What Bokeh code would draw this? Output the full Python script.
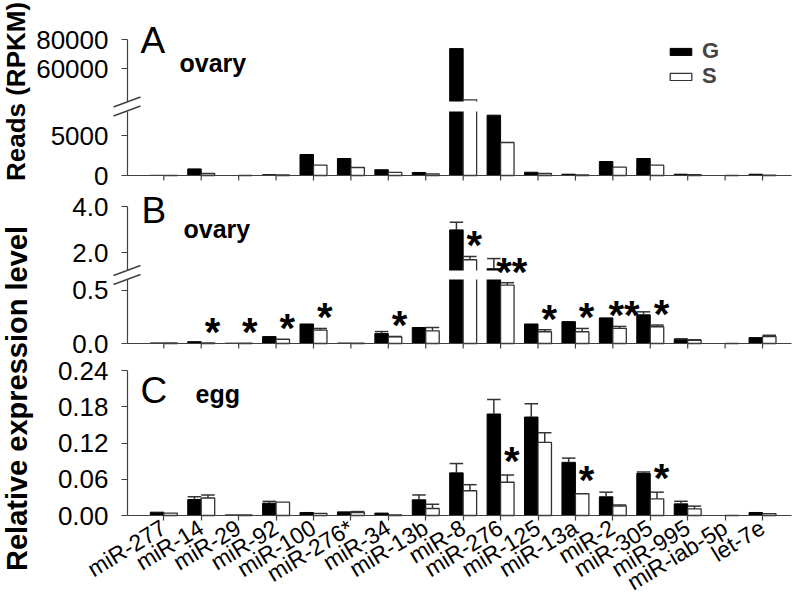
import numpy as np
from bokeh.plotting import figure
from bokeh.models import (ColumnDataSource, Range1d, FixedTicker, Label, LinearAxis,
                          Legend, LegendItem, CustomJSTickFormatter)
from bokeh.embed import file_html
from bokeh.resources import INLINE
from bokeh.core.properties import value

# ---------------- data ----------------
mirnas = ["miR-277", "miR-14", "miR-29", "miR-92", "miR-100", "miR-276*", "miR-34",
          "miR-13b", "miR-8", "miR-276", "miR-125", "miR-13a", "miR-2", "miR-305",
          "miR-995", "miR-iab-5p", "let-7e"]

# A: reads (RPKM), ovary
reads_G = [20, 825, 0, 100, 2625, 2125, 720, 380, 73800, 7540, 410, 160, 1750, 2125, 160, 0, 160]
reads_S = [10, 250, 0, 60, 1290, 1000, 385, 200, 38840, 4125, 250, 60, 1040, 1290, 120, 0, 50]
reads_ticks_low = [0, 5000]
reads_ticks_high = [60000, 80000]

# B: relative expression, ovary
ovary_G = [0.005, 0.017, 0.003, 0.065, 0.183, 0.004, 0.093, 0.150, 2.99, 1.31, 0.183, 0.205,
           0.240, 0.269, 0.040, 0.0, 0.055]
ovary_G_err = [0, 0, 0, 0, 0, 0, 0.019, 0, 0.33, 0.44, 0, 0, 0, 0.028, 0.004, 0, 0]
ovary_S = [0.005, 0.006, 0.003, 0.040, 0.126, 0.004, 0.062, 0.119, 1.70, 0.548, 0.110, 0.110,
           0.141, 0.157, 0.030, 0.0, 0.065]
ovary_S_err = [0, 0, 0, 0, 0.015, 0, 0.004, 0.031, 0.14, 0.022, 0.019, 0.031, 0.019, 0.016,
               0.005, 0, 0.012]
ovary_sig = ["", "*", "*", "*", "*", "", "*", "", "*", "**", "*", "*", "**", "*", "", "", ""]
ovary_ticks_low = [0.0, 0.5]
ovary_ticks_high = [2.0, 4.0]

# C: relative expression, egg
egg_G = [0.0055, 0.0265, 0.001, 0.0204, 0.005, 0.006, 0.004, 0.026, 0.0706, 0.168, 0.163,
         0.088, 0.031, 0.0695, 0.0193, 0.0, 0.005]
egg_G_err = [0, 0.0045, 0, 0.003, 0, 0, 0, 0.008, 0.0154, 0.024, 0.022, 0.007, 0.0076,
             0.0025, 0.0042, 0, 0]
egg_S = [0.004, 0.029, 0.001, 0.022, 0.0035, 0.005, 0.001, 0.0116, 0.041, 0.055, 0.121,
         0.036, 0.0154, 0.0276, 0.011, 0.0, 0.003]
egg_S_err = [0, 0.005, 0, 0, 0, 0.0015, 0, 0.007, 0.010, 0.012, 0.016, 0, 0.002, 0.011,
             0.0045, 0, 0]
egg_sig = ["", "", "", "", "", "", "", "", "", "*", "", "*", "", "*", "", "", ""]
egg_ticks = [0.00, 0.06, 0.12, 0.18, 0.24]

# ---------------- geometry (pixels) ----------------
FONT = "Liberation Sans"
AX = "#404040"
EDGE = "#333333"
W, H = 792, 604
X0, STEP = 163.3, 37.42          # pixel x of first category, category spacing


def px2x(px):
    return (px - X0) / STEP


def Y(py):                        # pixel row (from top) -> data y
    return H - py


AXIS_X = px2x(127)
X_END = px2x(791)
idx = np.arange(len(mirnas), dtype=float)
n = len(idx)
BW = 0.36
OFF = 0.18


def broken(lo_top, lo_px, gap_px, hi_bot, hi_top, hi_px):
    """piecewise-linear broken-axis scale: value -> pixels above the baseline"""
    def f(v):
        v = np.asarray(v, dtype=float)
        lo = v / lo_top * lo_px
        hi = lo_px + gap_px + (v - hi_bot) / (hi_top - hi_bot) * hi_px
        mid = lo_px + (v - lo_top) / (hi_bot - lo_top) * gap_px
        return np.where(v <= lo_top, lo, np.where(v >= hi_bot, hi, mid))
    return f


def linear(px_per_unit):
    def f(v):
        return np.asarray(v, dtype=float) * px_per_unit
    return f


p = figure(width=W, height=H, x_range=Range1d(px2x(0), px2x(W)), y_range=Range1d(0, H),
           x_axis_type=None, y_axis_type=None, output_backend="svg", toolbar_location=None,
           title=None, min_border=0)
p.outline_line_color = None
p.background_fill_color = "white"


def add_y_axis(base, f, ticks, fmt, lo_px, hi_px):
    b = Y(base)
    ax = LinearAxis(fixed_location=AXIS_X,
                    ticker=FixedTicker(ticks=[round(float(b + v), 3) for v in f(ticks)]),
                    bounds=(b + lo_px, b + hi_px),
                    formatter=CustomJSTickFormatter(args=dict(labels=[fmt % t for t in ticks]),
                                                    code="return labels[index];"))
    ax.axis_line_color = AX
    ax.axis_line_width = 1.2
    ax.major_tick_line_color = AX
    ax.major_tick_line_width = 1.2
    ax.minor_tick_line_color = None
    ax.major_tick_in = 0
    ax.major_tick_out = 6
    ax.major_label_standoff = 13
    ax.major_label_text_font = FONT
    ax.major_label_text_font_size = "26px"
    ax.major_label_text_color = "#000000"
    p.add_layout(ax, "left")


def baseline(base):
    b = Y(base)
    p.segment(x0=[AXIS_X], y0=[b], x1=[X_END], y1=[b], line_color=AX, line_width=1.2)
    p.segment(x0=idx, y0=np.full(n, b), x1=idx, y1=np.full(n, b - 5.0),
              line_color=AX, line_width=1.2)


def draw_bars(base, G, S, f):
    b = Y(base)
    src = ColumnDataSource(dict(xg=idx - OFF, xs=idx + OFF, g=b + f(G), s=b + f(S),
                                b=np.full(n, b)))
    rg = p.vbar(x="xg", top="g", bottom="b", width=BW, fill_color="black", line_color="black",
                line_width=1, source=src)
    rs = p.vbar(x="xs", top="s", bottom="b", width=BW, fill_color="white", line_color=EDGE,
                line_width=1.3, source=src)
    return rg, rs


def draw_err(base, xpos, val, err, f):
    b = Y(base)
    val = np.asarray(val, float)
    err = np.asarray(err, float)
    m = err > 0
    x = xpos[m]
    lo = b + f(val[m])
    hi = b + f(val[m] + err[m])
    p.segment(x0=x, y0=lo, x1=x, y1=hi, line_color=EDGE, line_width=1.5)
    p.segment(x0=x - OFF, y0=hi, x1=x + OFF, y1=hi, line_color=EDGE, line_width=1.5)


def draw_break(base, lo_px, gap_px):
    b = Y(base)
    p.quad(left=[px2x(128.5)], right=[X_END], bottom=[b + lo_px], top=[b + lo_px + gap_px],
           fill_color="white", line_color=None)
    mid = b + lo_px + gap_px / 2.0
    for d in (-4.5, 4.5):
        p.segment(x0=[px2x(113)], y0=[mid + d - 5], x1=[px2x(140)], y1=[mid + d + 5],
                  line_color=AX, line_width=1.4)


def draw_stars(base, S, Serr, sig, f, lift):
    b = Y(base)
    S = np.asarray(S, float)
    Serr = np.asarray(Serr, float)
    sig = np.asarray(sig)
    m = sig != ""
    src = ColumnDataSource(dict(x=idx[m] + 0.3, y=b + f(S[m] + Serr[m]) + lift, t=list(sig[m])))
    p.text(x="x", y="y", text="t", source=src, text_font=value(FONT),
           text_font_style=value("bold"), text_font_size=value("40px"), text_align=value("center"),
           text_baseline=value("alphabetic"), text_color="black")


def panel_text(letter, lx, ly, word, wx, wy):
    p.add_layout(Label(x=px2x(lx), y=Y(ly), text=letter, text_font=FONT, text_font_size="37px",
                       text_baseline="alphabetic", text_align="left", text_color="black"))
    p.add_layout(Label(x=px2x(wx), y=Y(wy), text=word, text_font=FONT, text_font_size="25px",
                       text_font_style="bold", text_baseline="alphabetic", text_align="left",
                       text_color="black"))


# ---------------- panel A (baseline at pixel row 175) ----------------
A_BASE = 175
fA = broken(8000, 64, 10, 37700, 80000, 62)
rg, rs = draw_bars(A_BASE, reads_G, reads_S, fA)
draw_break(A_BASE, 64, 10)
baseline(A_BASE)
add_y_axis(A_BASE, fA, reads_ticks_low, "%d", 0, 64)
add_y_axis(A_BASE, fA, reads_ticks_high, "%d", 74, float(fA(80000)))
panel_text("A", 140, 40, "ovary", 179, 62)
for item, rend, cy in (("G", rg, 52), ("S", rs, 77)):
    p.add_layout(Legend(items=[LegendItem(label=item, renderers=[rend])],
                        location=(667, H - cy - 12), glyph_width=27, glyph_height=9,
                        label_standoff=8, padding=0, margin=0, border_line_color=None,
                        background_fill_alpha=0, label_text_font=FONT,
                        label_text_font_style="bold", label_text_font_size="22px"))

# ---------------- panel B (baseline at pixel row 343) ----------------
B_BASE = 343
fB = broken(0.6, 64, 9, 1.235, 4.0, 64)
draw_bars(B_BASE, ovary_G, ovary_S, fB)
draw_err(B_BASE, idx - OFF, ovary_G, ovary_G_err, fB)
draw_err(B_BASE, idx + OFF, ovary_S, ovary_S_err, fB)
draw_break(B_BASE, 64, 9)
baseline(B_BASE)
add_y_axis(B_BASE, fB, ovary_ticks_low, "%.1f", 0, 64)
add_y_axis(B_BASE, fB, ovary_ticks_high, "%.1f", 73, float(fB(4.0)))
draw_stars(B_BASE, ovary_S, ovary_S_err, ovary_sig, fB, 11)
panel_text("B", 141, 210, "ovary", 183, 228)

# ---------------- panel C (baseline at pixel row 515) ----------------
C_BASE = 515
fC = linear(145.0 / 0.24)
draw_bars(C_BASE, egg_G, egg_S, fC)
draw_err(C_BASE, idx - OFF, egg_G, egg_G_err, fC)
draw_err(C_BASE, idx + OFF, egg_S, egg_S_err, fC)
add_y_axis(C_BASE, fC, egg_ticks, "%.2f", 0, float(fC(0.24)))
draw_stars(C_BASE, egg_S, egg_S_err, egg_sig, fC, 14)
panel_text("C", 140, 390, "egg", 195, 393)

xa = LinearAxis(fixed_location=Y(C_BASE), ticker=FixedTicker(ticks=list(idx)),
                bounds=(AXIS_X, X_END),
                formatter=CustomJSTickFormatter(args=dict(labels=mirnas),
                                                code="return labels[index];"))
xa.axis_line_color = AX
xa.axis_line_width = 1.2
xa.major_tick_line_color = AX
xa.major_tick_line_width = 1.2
xa.minor_tick_line_color = None
xa.major_tick_in = 0
xa.major_tick_out = 5
xa.major_label_standoff = 5
xa.major_label_orientation = 0.55
xa.major_label_text_font = FONT
xa.major_label_text_font_size = "23px"
xa.major_label_text_color = "#000000"
p.add_layout(xa, "below")

# ---------------- y titles ----------------
p.text(x=[px2x(15)], y=[Y(91)], text=["Reads (RPKM)"], angle=np.pi / 2,
       text_align=value("center"), text_baseline=value("middle"), text_font=value(FONT),
       text_font_style=value("bold"), text_font_size=value("26px"), text_color="black")
p.text(x=[px2x(16)], y=[Y(398)], text=["Relative expression level"], angle=np.pi / 2,
       text_align=value("center"), text_baseline=value("middle"), text_font=value(FONT),
       text_font_style=value("bold"), text_font_size=value("29px"), text_color="black")

open("out.html", "w").write(file_html(p, INLINE))
